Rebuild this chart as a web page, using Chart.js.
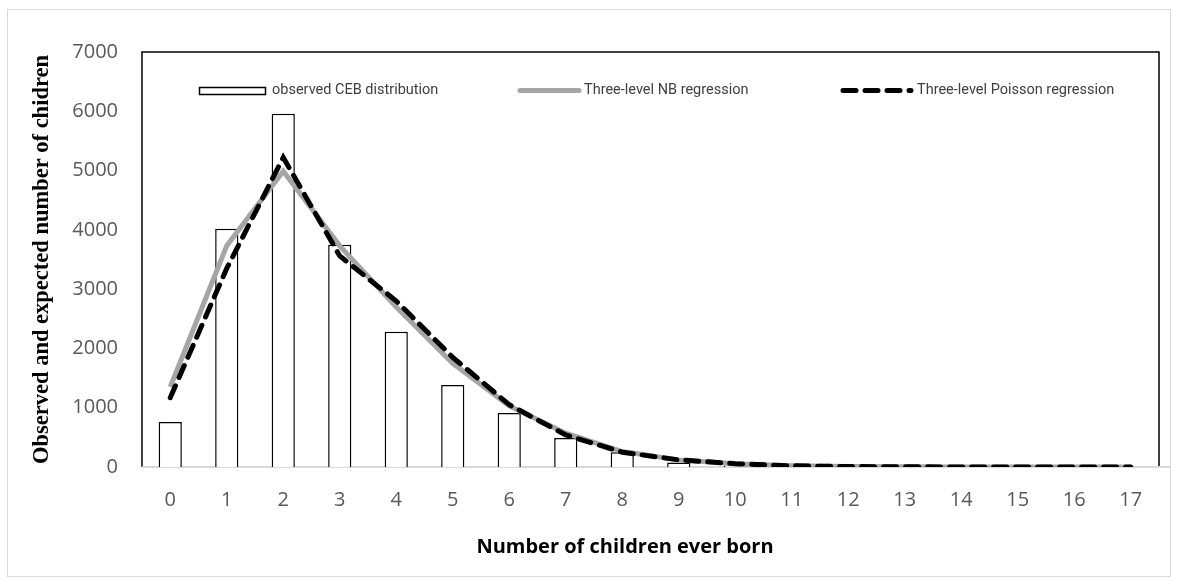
<!DOCTYPE html>
<html>
<head>
<meta charset="utf-8">
<script src="https://cdn.jsdelivr.net/npm/chart.js@4.4.1/dist/chart.umd.min.js"></script>
<style>
  html, body { margin: 0; padding: 0; background: #fff; }
  #wrap { width: 1178px; height: 583px; }
</style>
</head>
<body>
<div id="wrap"><canvas id="ceb"></canvas></div>
<script>
// Number of children ever born (categories)
const CATEGORIES = ['0', '1', '2', '3', '4', '5', '6', '7', '8', '9', '10', '11', '12', '13', '14', '15', '16', '17'];

// observed CEB distribution (bars)
const OBSERVED = [760, 4020, 5960, 3750, 2280, 1385, 910, 490, 250, 75, 25, 10, 4, 2, 1, 1, 0, 0];

// Three-level NB regression (grey line)
const NB_EXPECTED = [1350, 3730, 4990, 3730, 2700, 1750, 1030, 570, 260, 120, 55, 22, 9, 4, 2, 1, 0, 0];

// Three-level Poisson regression (dashed line)
const POISSON_EXPECTED = [1170, 3350, 5220, 3560, 2800, 1850, 1050, 540, 250, 120, 55, 20, 8, 3, 1, 0, 0, 0];

const Y_TICKS = [0, 1000, 2000, 3000, 4000, 5000, 6000, 7000];

const X_TITLE = 'Number of children ever born';
const Y_TITLE = 'Observed and expected number of chidren';

const COLORS = {
  nb: '#a5a5a5',
  poisson: '#000000',
  tick: '#595959',
  legendText: '#404040',
  frame: '#d9d9d9',
};

const LEGEND_FONT = "14.5px 'Roboto', sans-serif";

// outer frame + plot box (top/left/right black, bottom grey axis)
const framePlugin = {
  id: 'frame',
  beforeDraw(chart) {
    const { ctx } = chart;
    ctx.save();
    ctx.fillStyle = '#fff';
    ctx.fillRect(0, 0, chart.width, chart.height);
    ctx.strokeStyle = COLORS.frame;
    ctx.lineWidth = 1;
    ctx.strokeRect(7.5, 9.5, 1163, 567);
    ctx.restore();
  },
  beforeDatasetsDraw(chart) {
    const { ctx, chartArea: a } = chart;
    ctx.save();
    ctx.strokeStyle = '#000';
    ctx.lineWidth = 1.5;
    ctx.beginPath();
    ctx.moveTo(a.left, a.bottom);
    ctx.lineTo(a.left, a.top);
    ctx.lineTo(a.right, a.top);
    ctx.lineTo(a.right, a.bottom);
    ctx.stroke();
    ctx.strokeStyle = COLORS.frame;
    ctx.lineWidth = 2;
    ctx.beginPath();
    ctx.moveTo(a.left, a.bottom);
    ctx.lineTo(a.right + 12, a.bottom);
    ctx.stroke();

    // x axis title (sits a little left of the plot centre in the original)
    ctx.fillStyle = '#000';
    ctx.font = "bold 20px 'Open Sans', sans-serif";
    ctx.textAlign = 'center';
    ctx.textBaseline = 'alphabetic';
    ctx.fillText(X_TITLE, 625, 553);
    ctx.restore();
  },
};

// legend drawn inside the plot area, like the original
const insideLegend = {
  id: 'insideLegend',
  afterDatasetsDraw(chart) {
    const { ctx } = chart;
    const ds = chart.data.datasets;
    const y = 90.5;
    ctx.save();
    ctx.font = LEGEND_FONT;
    ctx.textBaseline = 'middle';

    // bar marker
    ctx.fillStyle = '#fff';
    ctx.fillRect(199.5, 87.5, 66, 7);
    ctx.strokeStyle = '#000';
    ctx.lineWidth = 1.5;
    ctx.strokeRect(199.5, 87.5, 66, 7);
    ctx.fillStyle = COLORS.legendText;
    ctx.fillText(ds[0].label, 272, y);

    // NB marker
    ctx.strokeStyle = ds[1].borderColor;
    ctx.lineWidth = ds[1].borderWidth;
    ctx.lineCap = 'round';
    ctx.beginPath();
    ctx.moveTo(520, y);
    ctx.lineTo(579, y);
    ctx.stroke();
    ctx.fillText(ds[1].label, 584, y);

    // Poisson marker
    ctx.strokeStyle = ds[2].borderColor;
    ctx.lineWidth = ds[2].borderWidth;
    ctx.setLineDash(ds[2].borderDash);
    ctx.beginPath();
    ctx.moveTo(843, y);
    ctx.lineTo(911, y);
    ctx.stroke();
    ctx.setLineDash([]);
    ctx.fillText(ds[2].label, 917, y);
    ctx.restore();
  },
};

new Chart(document.getElementById('ceb'), {
  type: 'bar',
  data: {
    labels: CATEGORIES,
    datasets: [
      {
        type: 'bar',
        label: 'observed CEB distribution',
        data: OBSERVED,
        backgroundColor: '#ffffff',
        borderColor: '#000000',
        borderWidth: 1.5,
        barPercentage: 0.41,
        categoryPercentage: 1.0,
        order: 3,
      },
      {
        type: 'line',
        label: 'Three-level NB regression',
        data: NB_EXPECTED,
        borderColor: COLORS.nb,
        borderWidth: 5,
        pointRadius: 0,
        tension: 0,
        order: 2,
      },
      {
        type: 'line',
        label: 'Three-level Poisson regression',
        data: POISSON_EXPECTED,
        borderColor: COLORS.poisson,
        borderWidth: 5,
        borderDash: [13, 9],
        borderCapStyle: 'round',
        pointRadius: 0,
        tension: 0,
        order: 1,
      },
    ],
  },
  options: {
    responsive: true,
    maintainAspectRatio: false,
    animation: false,
    layout: {
      padding: { top: 52, right: 19, left: 0, bottom: 0 },
    },
    plugins: {
      legend: { display: false },
      tooltip: { enabled: false },
    },
    scales: {
      x: {
        grid: { display: false, drawTicks: false },
        border: { display: false },
        ticks: {
          color: COLORS.tick,
          padding: 21,
          font: { family: "'Open Sans', sans-serif", size: 20 },
        },
        afterFit(scale) { scale.height = 116; },
      },
      y: {
        min: 0,
        max: 7000,
        afterBuildTicks(scale) { scale.ticks = Y_TICKS.map(v => ({ value: v })); },
        grid: { display: false, drawTicks: false },
        border: { display: false },
        ticks: {
          color: COLORS.tick,
          padding: 24,
          font: { family: "'Open Sans', sans-serif", size: 20 },
          callback: v => String(v),
        },
        title: {
          display: true,
          text: Y_TITLE,
          color: '#000',
          padding: { top: 28.5, bottom: 0 },
          font: { family: "'Liberation Serif', serif", size: 22.5, weight: 'bold' },
        },
        afterFit(scale) { scale.width = 142; },
      },
    },
  },
  plugins: [framePlugin, insideLegend],
});
</script>
</body>
</html>
